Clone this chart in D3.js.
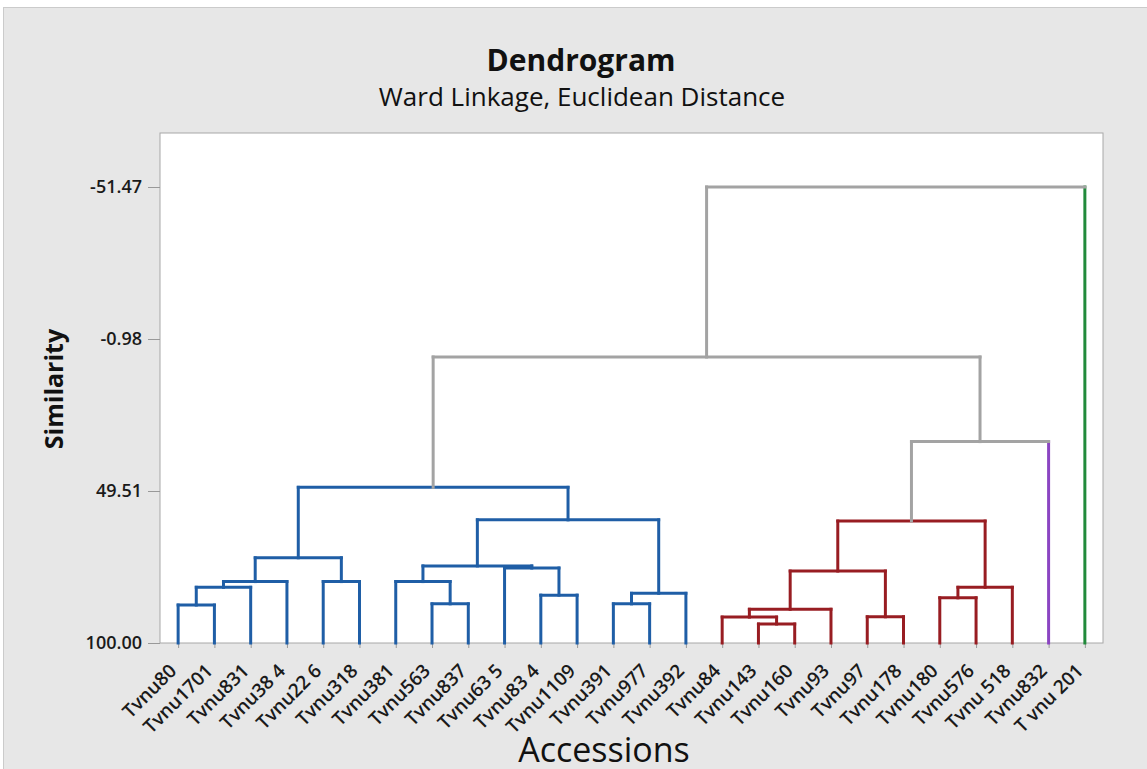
<!DOCTYPE html>
<html>
<head>
<meta charset="utf-8">
<script src="https://cdn.jsdelivr.net/npm/d3@7"></script>
<style>
  body { margin: 0; background: #ffffff; }
  svg { display: block; }
</style>
</head>
<body>
<svg id="chart"></svg>
<script>
// Leaf labels, left to right as they appear on the axis
const leaves = ["Tvnu80", "Tvnu1701", "Tvnu831", "Tvnu38 4", "Tvnu22 6", "Tvnu318", "Tvnu381",
  "Tvnu563", "Tvnu837", "Tvnu63 5", "Tvnu83 4", "Tvnu1109", "Tvnu391", "Tvnu977", "Tvnu392",
  "Tvnu84", "Tvnu143", "Tvnu160", "Tvnu93", "Tvnu97", "Tvnu178", "Tvnu180", "Tvnu576",
  "Tvnu 518", "Tvnu832", "T vnu 201"];

// Which final cluster each leaf belongs to
const leafCluster = [0, 0, 0, 0, 0, 0, 0, 0, 0, 0, 0, 0, 0, 0, 0,
  1, 1, 1, 1, 1, 1, 1, 1, 1, 2, 3];

// Merge steps: [left node, right node, similarity]; new node ids start at leaves.length
const merges = [
  [0, 1, 87.4],    // 26
  [26, 2, 81.5],   // 27
  [27, 3, 79.6],   // 28
  [4, 5, 79.6],    // 29
  [28, 29, 71.7],  // 30
  [7, 8, 87.0],    // 31
  [6, 31, 79.6],   // 32
  [10, 11, 84.1],  // 33
  [9, 33, 75.1],   // 34
  [32, 34, 74.4],  // 35
  [12, 13, 87.0],  // 36
  [36, 14, 83.5],  // 37
  [35, 37, 59.1],  // 38
  [30, 38, 48.3],  // 39
  [16, 17, 93.7],  // 40
  [15, 40, 91.4],  // 41
  [41, 18, 88.8],  // 42
  [19, 20, 91.3],  // 43
  [42, 43, 76.1],  // 44
  [21, 22, 85.0],  // 45
  [45, 23, 81.5],  // 46
  [44, 46, 59.5],  // 47
  [47, 24, 33.1],  // 48
  [39, 48, 5.0],   // 49
  [49, 25, -51.47] // 50
];

const yTicks = [-51.47, -0.98, 49.51, 100.00];
const clusterColors = ["#1f5ea6", "#981d22", "#8b45c2", "#218a3b"];
const linkGray = "#a3a3a3";

const W = 1147, H = 769;
const plot = { left: 160, right: 1103, top: 133, bottom: 643 };
const font = "'Open Sans', sans-serif";

const svg = d3.select("#chart").attr("width", W).attr("height", H);

// Background frame
svg.append("rect")
  .attr("x", 3.5).attr("y", 7.5)
  .attr("width", W).attr("height", H)
  .attr("fill", "#e7e7e7").attr("stroke", "#cbcbcb");

svg.append("rect")
  .attr("x", plot.left).attr("y", plot.top)
  .attr("width", plot.right - plot.left).attr("height", plot.bottom - plot.top)
  .attr("fill", "#ffffff").attr("stroke", "#a8a8a8");

// Scales
const x = d3.scalePoint().domain(leaves).range([plot.left, plot.right]).padding(0.5);
const y = d3.scaleLinear().domain([100, -51.47]).range([plot.bottom, 187]);

// Axes
const yAxis = svg.append("g")
  .attr("transform", "translate(" + plot.left + ",0)")
  .call(d3.axisLeft(y).tickValues(yTicks).tickFormat(d => d.toFixed(2)).tickSize(12).tickPadding(6));
yAxis.select(".domain").remove();
yAxis.selectAll(".tick line").attr("stroke", "#999");
yAxis.selectAll(".tick text")
  .attr("fill", "#1a1a1a")
  .style("font-family", font)
  .style("font-size", "18px")
  .style("font-weight", "600");

const xAxis = svg.append("g")
  .attr("transform", "translate(0," + plot.bottom + ")")
  .call(d3.axisBottom(x).tickSize(5));
xAxis.select(".domain").remove();
xAxis.selectAll(".tick line").attr("stroke", "#999");
xAxis.selectAll(".tick text")
  .attr("fill", "#1a1a1a")
  .style("font-family", font)
  .style("font-size", "19px")
  .style("font-weight", "600")
  .style("text-anchor", "end")
  .attr("x", 0).attr("y", 0).attr("dy", 0)
  .attr("transform", "translate(-1,29) rotate(-45)");

// Node positions and colours
const n = leaves.length;
const nodes = leaves.map((name, i) => ({ x: x(name), y: y(100), cluster: leafCluster[i], leaf: true }));
merges.forEach(([a, b, s]) => {
  const ca = nodes[a].cluster, cb = nodes[b].cluster;
  nodes.push({
    x: (nodes[a].x + nodes[b].x) / 2,
    y: y(s),
    cluster: (ca !== null && ca === cb) ? ca : null,
    leaf: false
  });
});

const segs = [];
merges.forEach(([a, b], k) => {
  const p = nodes[n + k];
  const hColor = p.cluster !== null ? clusterColors[p.cluster] : linkGray;
  [a, b].forEach(c => {
    const ch = nodes[c];
    let vColor = hColor;
    if (p.cluster === null) vColor = ch.leaf ? clusterColors[ch.cluster] : linkGray;
    segs.push({ x1: ch.x, y1: ch.y, x2: ch.x, y2: p.y, color: vColor });
  });
  segs.push({ x1: nodes[a].x, y1: p.y, x2: nodes[b].x, y2: p.y, color: hColor });
});

svg.append("g").selectAll("line")
  .data(segs)
  .enter()
  .append("line")
  .attr("x1", d => d.x1).attr("y1", d => d.y1)
  .attr("x2", d => d.x2).attr("y2", d => d.y2)
  .attr("stroke", d => d.color)
  .attr("stroke-width", 3)
  .attr("stroke-linecap", "square");

// Titles
svg.append("text")
  .attr("x", 581).attr("y", 71)
  .attr("text-anchor", "middle")
  .style("font-family", font)
  .style("font-size", "30px").style("font-weight", "bold")
  .attr("fill", "#111")
  .text("Dendrogram");

svg.append("text")
  .attr("x", 582).attr("y", 106)
  .attr("text-anchor", "middle")
  .style("font-family", font)
  .style("font-size", "26px")
  .attr("fill", "#111")
  .text("Ward Linkage, Euclidean Distance");

svg.append("text")
  .attr("transform", "translate(63,389) rotate(-90)")
  .attr("text-anchor", "middle")
  .style("font-family", font)
  .style("font-size", "25px").style("font-weight", "bold")
  .attr("fill", "#111")
  .text("Similarity");

svg.append("text")
  .attr("x", 604).attr("y", 762)
  .attr("text-anchor", "middle")
  .style("font-family", font)
  .style("font-size", "34px")
  .attr("fill", "#111")
  .text("Accessions");
</script>
</body>
</html>
